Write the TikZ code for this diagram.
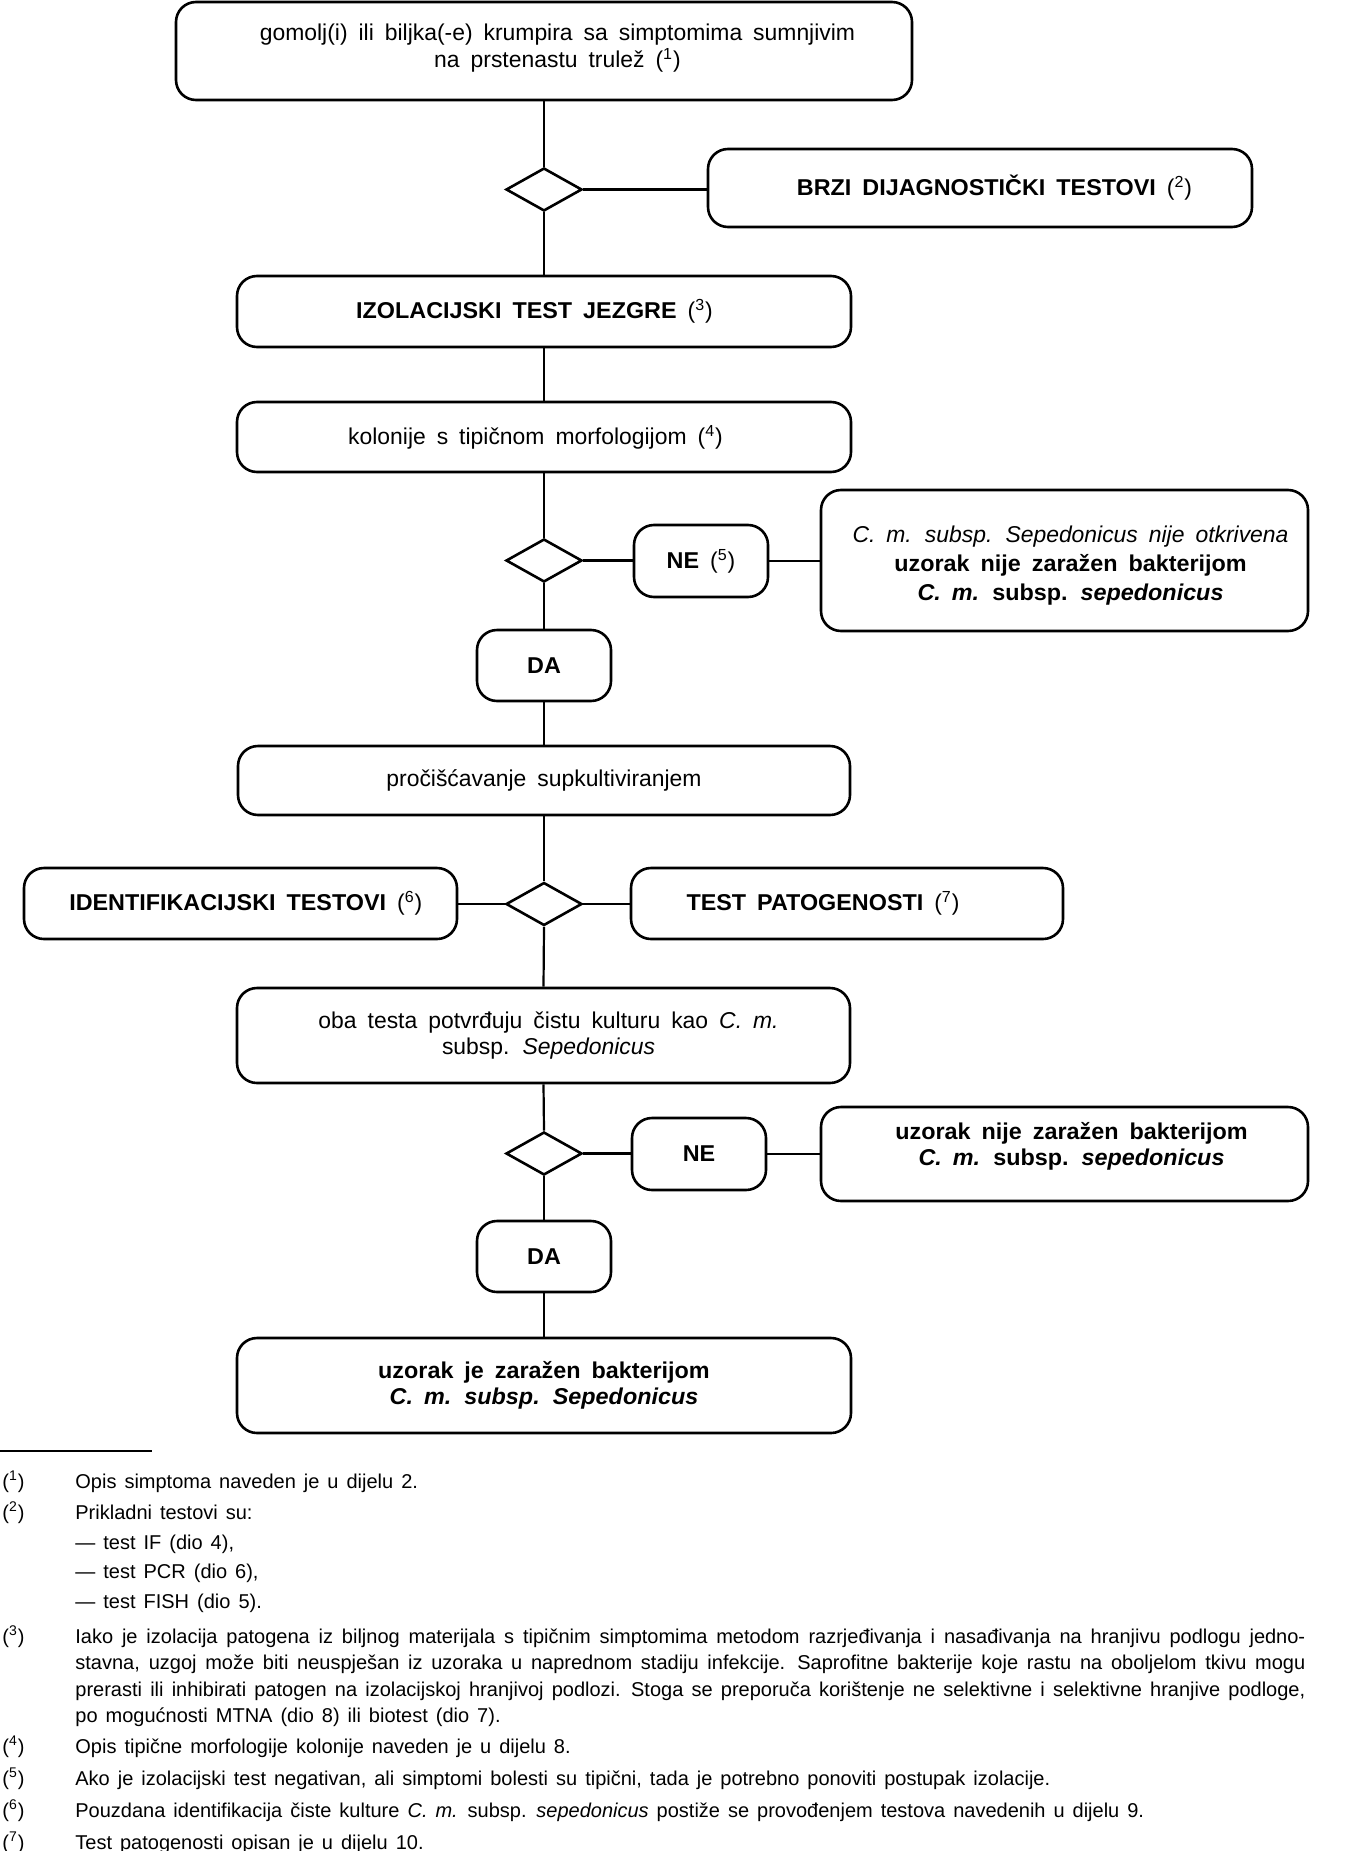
\documentclass[tikz,border=0pt]{standalone}
\usepackage{fontspec}
\setmainfont{Liberation Sans}[BoldFeatures={FakeStretch=1.02},BoldItalicFeatures={FakeStretch=1.02}]
\usetikzlibrary{shapes.geometric}
\newcommand\bxf{\fontsize{11.45}{13}\selectfont\spaceskip=0.48em plus 0.1em minus 0.05em\relax}
\newcommand\fnf{\fontsize{10}{13}\selectfont\spaceskip=0.4em plus 0.3em minus 0.12em\relax}
\newcommand\sref[1]{\textmd{(\textsuperscript{#1})}}
\newcommand\shiftup[2]{\raisebox{#1}[\height][\depth]{\begin{tabular}{@{}c@{}}#2\end{tabular}}}
\begin{document}
\begin{tikzpicture}[x=0.5pt,y=-0.5pt,
  box/.style={draw, line width=1.3pt, rounded corners=10pt, inner sep=0pt, align=center, font=\bxf},
  dec/.style={draw, diamond, line width=1.3pt, minimum width=38pt, minimum height=21.5pt, inner sep=0pt},
  link/.style={line width=1.1pt},
  fn/.style={anchor=base west, inner sep=0pt, font=\fnf}]
\useasboundingbox (0,0) rectangle (1363,1851);
\clip (0,0) rectangle (1363,1851);

\node[box, minimum width=368pt, minimum height=49pt] (top) at (544,51) {\shiftup{1pt}{\hspace*{13.5pt}gomolj(i) ili biljka(-e) krumpira sa simptomima sumnjivim\\\hspace*{13.5pt}na prstenastu trulež \sref{1}}};
\node[dec] (d1) at (544,189.5) {};
\node[box, minimum width=272pt, minimum height=39pt] (brzi) at (980,188) {\hspace*{14.5pt}\textbf{BRZI DIJAGNOSTIČKI TESTOVI} \sref{2}};
\node[box, minimum width=307pt, minimum height=35.5pt] (izol) at (544,311.5) {\textbf{IZOLACIJSKI TEST JEZGRE} \sref{3}\hspace*{9.5pt}};
\node[box, minimum width=307pt, minimum height=35pt] (kol) at (544,437) {kolonije s tipičnom morfologijom \sref{4}\hspace*{8.5pt}};
\node[dec] (d2) at (544,560.5) {};
\node[box, minimum width=67pt, minimum height=36pt] (ne1) at (701,561) {\textbf{NE} \sref{5}};
\node[box, minimum width=243.5pt, minimum height=70.5pt] (res1) at (1064.5,560.5) {\hspace*{6pt}\shiftup{-3pt}{\textit{C. m. subsp. Sepedonicus nije otkrivena}\\[1.5pt]\textbf{uzorak nije zaražen bakterijom}\\[1.5pt]\textbf{\textit{C. m.} subsp. \textit{sepedonicus}}}};
\node[box, minimum width=67pt, minimum height=35.5pt] (da1) at (544,665.5) {\textbf{DA}};
\node[box, minimum width=306pt, minimum height=34.5pt] (proc) at (544,780.5) {pročišćavanje supkultiviranjem};
\node[dec] (d3) at (544,904) {};
\node[box, minimum width=216.5pt, minimum height=35.5pt] (ident) at (240.5,903.5) {\hspace*{5.3pt}\textbf{IDENTIFIKACIJSKI TESTOVI} \sref{6}};
\node[box, minimum width=216pt, minimum height=35.5pt] (pat) at (847,903.5) {\textbf{TEST PATOGENOSTI} \sref{7}\hspace*{24pt}};
\node[box, minimum width=306.5pt, minimum height=47.5pt] (oba) at (543.5,1035.5) {\hspace*{5pt}oba testa potvrđuju čistu kulturu kao \textit{C. m.}\\\hspace*{5pt}subsp. \textit{Sepedonicus}};
\node[dec] (d4) at (544,1153.5) {};
\node[box, minimum width=67pt, minimum height=36pt] (ne2) at (699,1154) {\textbf{NE}};
\node[box, minimum width=243.5pt, minimum height=47pt] (res2) at (1064.5,1154) {\hspace*{7pt}\shiftup{3.5pt}{\textbf{uzorak nije zaražen bakterijom}\\\textbf{\textit{C. m.} subsp. \textit{sepedonicus}}}};
\node[box, minimum width=67pt, minimum height=35.5pt] (da2) at (544,1256.5) {\textbf{DA}};
\node[box, minimum width=307pt, minimum height=47.5pt] (fin) at (544,1385.5) {\textbf{uzorak je zaražen bakterijom}\\\textbf{\textit{C. m. subsp. Sepedonicus}}};

\draw[link] (top.south) -- (d1.north);
\draw[link] (d1.east) -- (d1.east -| brzi.west);
\draw[link] (d1.south) -- (izol.north);
\draw[link] (izol.south) -- (kol.north);
\draw[link] (kol.south) -- (d2.north);
\draw[link] (d2.east) -- (d2.east -| ne1.west);
\draw[link] (ne1.east) -- (ne1.east -| res1.west);
\draw[link] (d2.south) -- (da1.north);
\draw[link] (da1.south) -- (proc.north);
\draw[link] (proc.south) -- (d3.north);
\draw[link] (d3.west) -- (d3.west -| ident.east);
\draw[link] (d3.east) -- (d3.east -| pat.west);
\draw[link] (d3.south) -- (oba.north);
\draw[link] (oba.south) -- (d4.north);
\draw[link] (d4.east) -- (d4.east -| ne2.west);
\draw[link] (ne2.east) -- (ne2.east -| res2.west);
\draw[link] (d4.south) -- (da2.north);
\draw[link] (da2.south) -- (fin.north);

\draw[line width=0.8pt] (0,1451) -- (152,1451);

\node[fn] (m1) at (2,1488) {(\textsuperscript{1})};
\node[fn] (f1) at (75,1488) {Opis simptoma naveden je u dijelu 2.};
\node[fn] (m2) at (2,1519) {(\textsuperscript{2})};
\node[fn] (f2) at (75,1519) {Prikladni testovi su:};
\node[fn] (f2a) at (75,1549) {— test IF (dio 4),};
\node[fn] (f2b) at (75,1578) {— test PCR (dio 6),};
\node[fn] (f2c) at (75,1608) {— test FISH (dio 5).};
\node[fn] (m3) at (2,1643) {(\textsuperscript{3})};
\node[fn] (f3a) at (75,1643) {\makebox[615pt][s]{Iako je izolacija patogena iz biljnog materijala s tipičnim simptomima metodom razrjeđivanja i nasađivanja na hranjivu podlogu jedno-}};
\node[fn] (f3b) at (75,1669) {\makebox[615pt][s]{stavna, uzgoj može biti neuspješan iz uzoraka u naprednom stadiju infekcije. Saprofitne bakterije koje rastu na oboljelom tkivu mogu}};
\node[fn] (f3c) at (75,1696) {\makebox[615pt][s]{prerasti ili inhibirati patogen na izolacijskoj hranjivoj podlozi. Stoga se preporuča korištenje ne selektivne i selektivne hranjive podloge,}};
\node[fn] (f3d) at (75,1722) {po mogućnosti MTNA (dio 8) ili biotest (dio 7).};
\node[fn] (m4) at (2,1753) {(\textsuperscript{4})};
\node[fn] (f4) at (75,1753) {Opis tipične morfologije kolonije naveden je u dijelu 8.};
\node[fn] (m5) at (2,1785) {(\textsuperscript{5})};
\node[fn] (f5) at (75,1785) {Ako je izolacijski test negativan, ali simptomi bolesti su tipični, tada je potrebno ponoviti postupak izolacije.};
\node[fn] (m6) at (2,1817) {(\textsuperscript{6})};
\node[fn] (f6) at (75,1817) {Pouzdana identifikacija čiste kulture \textit{C. m.} subsp. \textit{sepedonicus} postiže se provođenjem testova navedenih u dijelu 9.};
\node[fn] (m7) at (2,1849) {(\textsuperscript{7})};
\node[fn] (f7) at (75,1849) {Test patogenosti opisan je u dijelu 10.};
\end{tikzpicture}
\end{document}
